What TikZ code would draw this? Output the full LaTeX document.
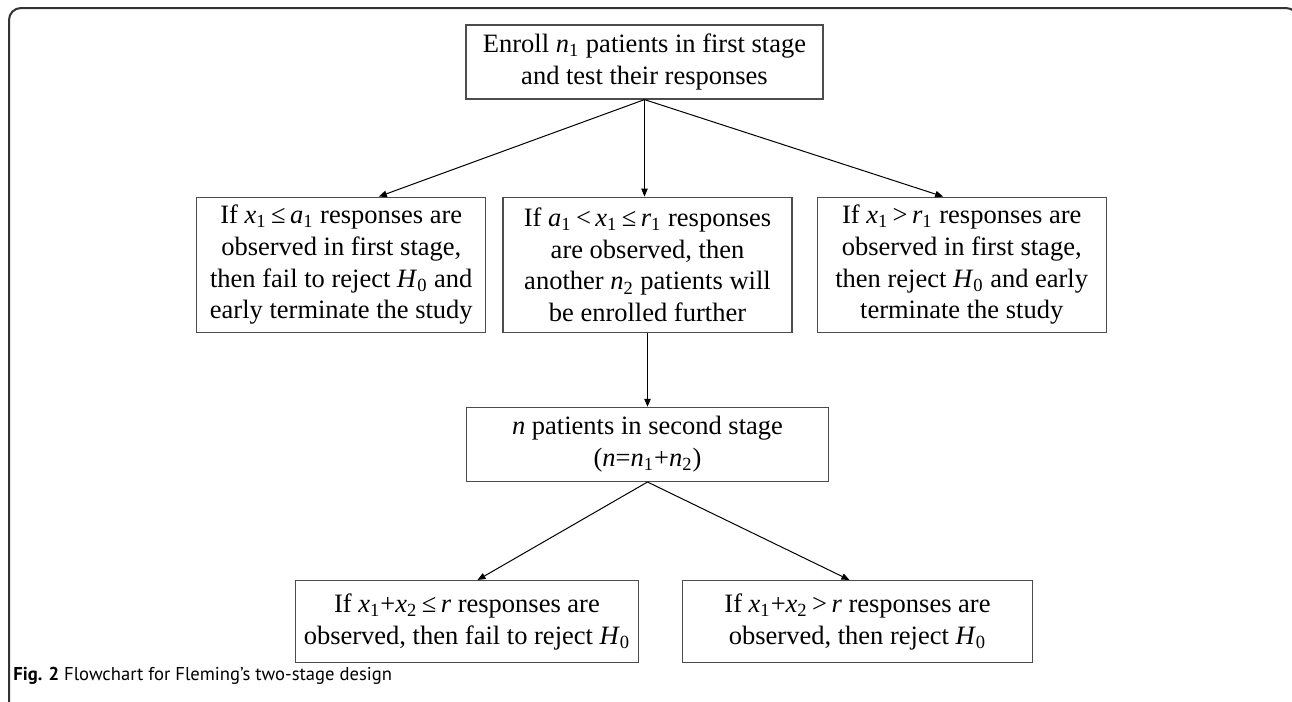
\documentclass[tikz,border=0pt]{standalone}
\usepackage{fontspec}
\setmainfont{Liberation Serif}
\newfontfamily\capfont{PT Sans}
\usepackage{xcolor}
\usetikzlibrary{arrows.meta,positioning}
\newcommand{\sv}[2]{\textit{#1}\textsubscript{#2}}

\begin{document}
\begin{tikzpicture}[
    x=0.5pt, y=-0.5pt,
    box/.style={rectangle, draw=black!70, line width=0.6pt, align=center, inner sep=2pt, font=\fontsize{13.25pt}{15.9pt}\selectfont},
    arr/.style={-{Triangle[length=4pt,width=3.2pt]}, line width=0.5pt}
]
\useasboundingbox (0,0) rectangle (1292,702);
% frame
\draw[line width=1pt, black!80, rounded corners=6pt] (9,710) -- (9,8) -- (1298,8) -- (1298,710);

\node[box, minimum width=178.5pt, minimum height=37pt] (enrol) at (644.5,62) {Enroll \sv{n}{1} patients in first stage\\and test their responses};
\node[box, minimum width=144.5pt, minimum height=67.5pt, below=48.5pt of enrol, xshift=1.5pt] (cont) {If \sv{a}{1}\,<\,\sv{x}{1}\,≤\,\sv{r}{1} responses\\are observed, then\\another \sv{n}{2} patients will\\be enrolled further};
\node[box, minimum width=144.5pt, minimum height=67.5pt, left=8pt of cont] (fail1) {If \sv{x}{1}\,≤\,\sv{a}{1} responses are\\observed in first stage,\\then fail to reject \sv{H}{0} and\\early terminate the study};
\node[box, minimum width=144.5pt, minimum height=67.5pt, right=12pt of cont] (rej1) {If \sv{x}{1}\,>\,\sv{r}{1} responses are\\observed in first stage,\\then reject \sv{H}{0} and early\\terminate the study};
\node[box, minimum width=181pt, minimum height=37pt, below=37pt of cont] (second) {\textit{n} patients in second stage\\(\textit{n}=\sv{n}{1}+\sv{n}{2})};
\node[box, minimum width=171.5pt, minimum height=41pt, below=49pt of second, xshift=-90.25pt] (fail2) {If \sv{x}{1}+\sv{x}{2}\,≤\,\textit{r} responses are\\observed, then fail to reject \sv{H}{0}};
\node[box, minimum width=175pt, minimum height=41pt, below=49pt of second, xshift=105pt] (rej2) {If \sv{x}{1}+\sv{x}{2}\,>\,\textit{r} responses are\\observed, then reject \sv{H}{0}};

\node[anchor=base west, inner sep=0pt, font=\capfont\fontsize{9.3pt}{11pt}\selectfont] (cap) at (13,680) {\textbf{Fig. 2} Flowchart for Fleming’s two-stage design};

\draw[arr] (enrol.south) -- ([xshift=18.75pt]fail1.north);
\draw[arr] (enrol.south) -- (enrol.south |- cont.north);
\draw[arr] (enrol.south) -- ([xshift=-9.25pt]rej1.north);
\draw[arr] (cont.south) -- (second.north);
\draw[arr] (second.south) -- ([xshift=5.25pt]fail2.north);
\draw[arr] (second.south) -- ([xshift=-4pt]rej2.north);
\end{tikzpicture}
\end{document}
